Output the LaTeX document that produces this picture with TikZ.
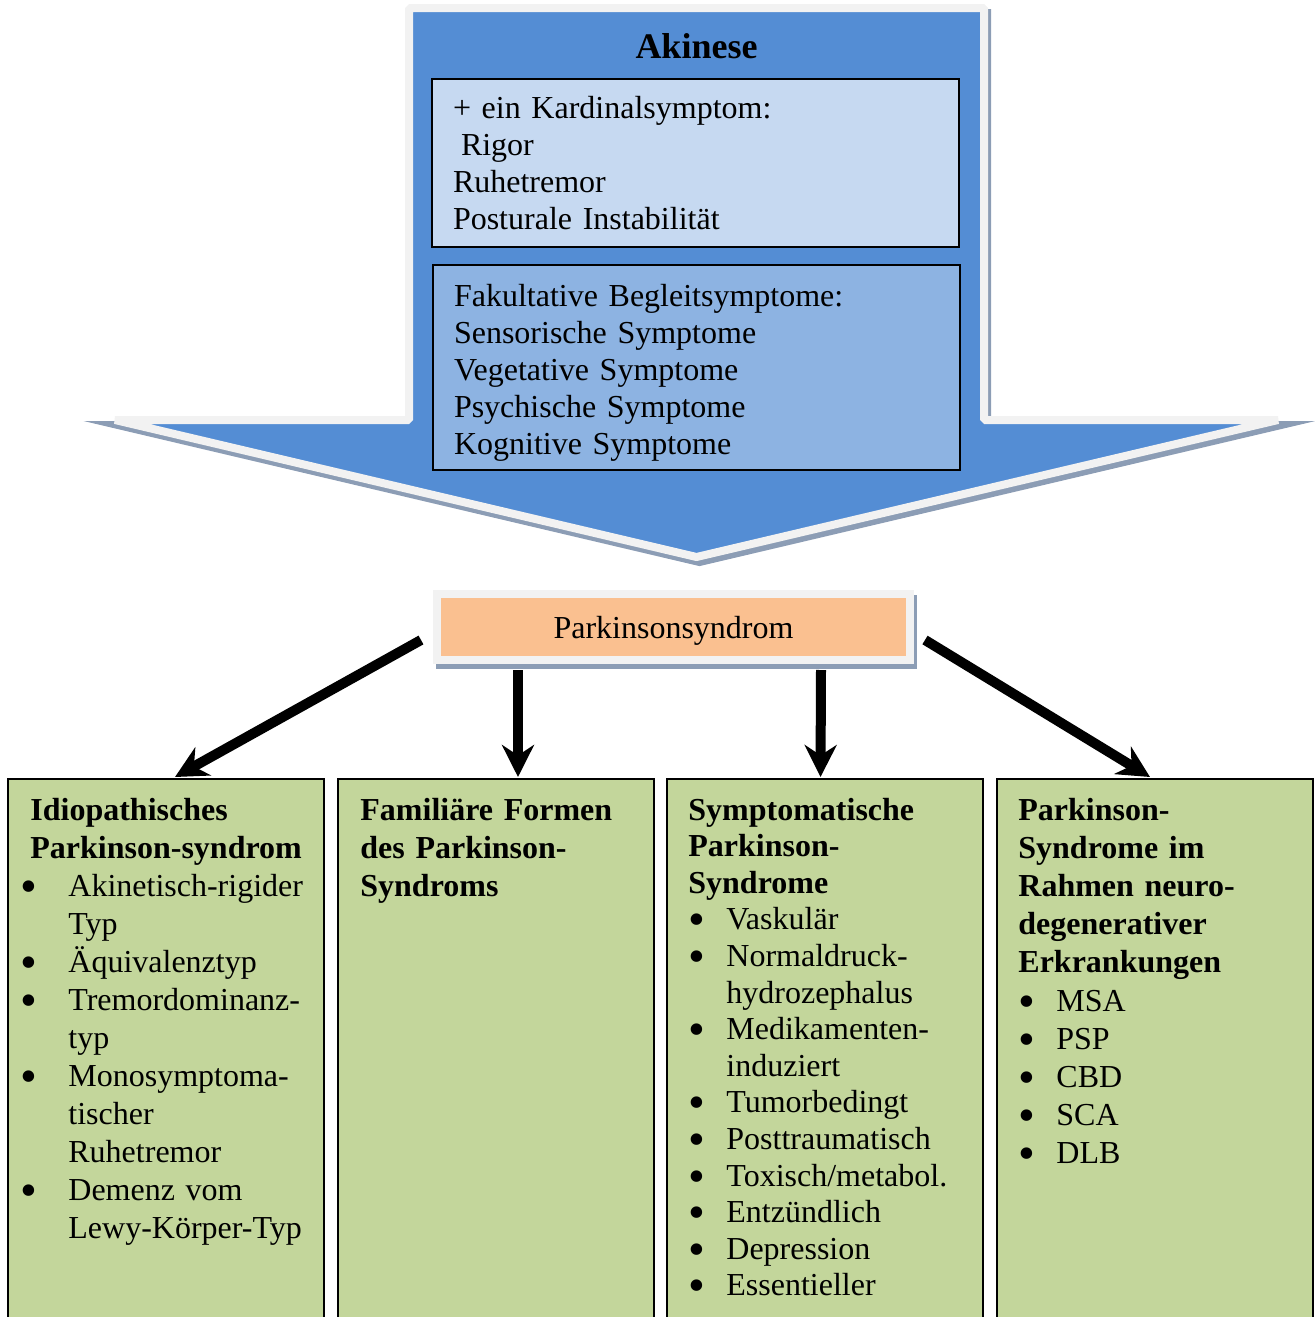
\documentclass[tikz,border=0pt]{standalone}
\usepackage{fontspec}
\setmainfont{Liberation Serif}
\usetikzlibrary{arrows.meta, positioning, calc}

\definecolor{ArrowBlue}{HTML}{548DD4}
\definecolor{PaleBlue}{HTML}{C6D9F1}
\definecolor{MidBlue}{HTML}{8DB3E2}
\definecolor{RimGray}{HTML}{F2F2F2}
\definecolor{ShadowGray}{HTML}{8C9DB5}
\definecolor{SyndromOrange}{HTML}{FAC090}
\definecolor{FormGreen}{HTML}{C3D69B}

\newcommand{\itm}[2]{\makebox[19pt][l]{\hspace*{#1}\raisebox{-3pt}{\scalebox{1.5}{\textbullet}}}#2}
\newcommand{\cont}[1]{\hspace*{19pt}#1}

\begin{document}
\begin{tikzpicture}[
  x=0.5pt, y=-0.5pt,
  >={Stealth[length=16pt, width=16pt]},
  rim/.style={draw=RimGray, line width=4pt},
  rimshadow/.style={preaction={draw=ShadowGray, fill=ShadowGray, line width=4pt,
    transform canvas={shift={(3,5)}}}},
  listbox/.style={draw=black, line width=1pt, text width=242.5pt, inner xsep=10.5pt,
    align=left, font=\fontsize{16}{18.5}\selectfont},
  formbox/.style={draw=black, line width=1pt, fill=FormGreen, minimum width=158pt,
    minimum height=320pt, anchor=north west, outer sep=0pt, inner sep=0pt},
  formtext/.style={anchor=base west, align=left, text width=150pt, inner sep=0pt},
  bigarrow/.style={->, line width=5pt}
]
  \useasboundingbox (0,0) rectangle (1314,1317);

  % big arrow
  \path[fill=ArrowBlue, rim, rimshadow, line join=bevel]
    (409,420) -- (409,8) -- (984,8) -- (984,420) -- (1278,420)
    -- (696.5,557) -- (115,420) -- cycle;
  \node[anchor=base, font=\fontsize{18}{22}\selectfont\bfseries] (akinese) at (696.5,58) {Akinese};
  \node[listbox, fill=PaleBlue, minimum height=84pt] (kardinal) at (695.5,163)
    {+ ein Kardinalsymptom:\\ \hspace*{4pt}Rigor\\ Ruhetremor\\ Posturale Instabilität};
  \node[listbox, fill=MidBlue, minimum height=102.5pt] (begleit) at (696.5,367.5)
    {\rule{0pt}{16pt}Fakultative Begleitsymptome:\\ Sensorische Symptome\\ Vegetative Symptome\\
     Psychische Symptome\\ Kognitive Symptome};

  \node[rim, rimshadow, fill=SyndromOrange, minimum width=236.5pt, minimum height=33pt,
    outer sep=0pt, inner sep=0pt, text height=11.5pt, text depth=0pt,
    font=\fontsize{16}{19}\selectfont] (park) at (673.5,627) {Parkinsonsyndrom};

  % the four forms
  \foreach \name/\x in {idio/8, fam/338, sym/667, neuro/997}
    \node[formbox] (\name) at (\x,779) {};

  \node[formtext, font=\fontsize{16}{19}\selectfont] (idiotext) at (30,820)
    {\textbf{Idiopathisches}\\ \textbf{Parkinson-syndrom}\\
     \itm{-5pt}{Akinetisch-rigider}\\ \cont{Typ}\\
     \itm{-5pt}{Äquivalenztyp}\\
     \itm{-5pt}{Tremordominanz-}\\ \cont{typ}\\
     \itm{-5pt}{Monosymptoma-}\\ \cont{tischer}\\ \cont{Ruhetremor}\\
     \itm{-5pt}{Demenz vom}\\ \cont{Lewy-Körper-Typ}};
  \node[formtext, font=\fontsize{16}{19}\selectfont\bfseries] (famtext) at (360,820)
    {Familiäre Formen\\ des Parkinson-\\ Syndroms};
  \node[formtext, font=\fontsize{16}{18.3}\selectfont] (symtext) at (688,820)
    {\textbf{Symptomatische}\\ \textbf{Parkinson-}\\ \textbf{Syndrome}\\
     \itm{0pt}{Vaskulär}\\
     \itm{0pt}{Normaldruck-}\\ \cont{hydrozephalus}\\
     \itm{0pt}{Medikamenten-}\\ \cont{induziert}\\
     \itm{0pt}{Tumorbedingt}\\
     \itm{0pt}{Posttraumatisch}\\
     \itm{0pt}{Toxisch/metabol.}\\
     \itm{0pt}{Entzündlich}\\
     \itm{0pt}{Depression}\\
     \itm{0pt}{Essentieller}};
  \node[formtext, font=\fontsize{16}{19.1}\selectfont] (neurotext) at (1018,820)
    {\textbf{Parkinson-}\\ \textbf{Syndrome im}\\ \textbf{Rahmen neuro-}\\
     \textbf{degenerativer}\\ \textbf{Erkrankungen}\\
     \itm{0pt}{MSA}\\ \itm{0pt}{PSP}\\ \itm{0pt}{CBD}\\ \itm{0pt}{SCA}\\ \itm{0pt}{DLB}};

  \draw[bigarrow] ([shift={(-16,13)}]park.west) -- ([shift={(9,-2)}]idio.north);
  \draw[bigarrow] ([shift={(-155.5,10)}]park.south) -- ([shift={(22,-2)}]fam.north);
  \draw[bigarrow] ([shift={(147.5,10)}]park.south) -- ([shift={(-4.5,-2)}]sym.north);
  \draw[bigarrow] ([shift={(15,13)}]park.east) -- ([shift={(-5,-2)}]neuro.north);
\end{tikzpicture}
\end{document}
